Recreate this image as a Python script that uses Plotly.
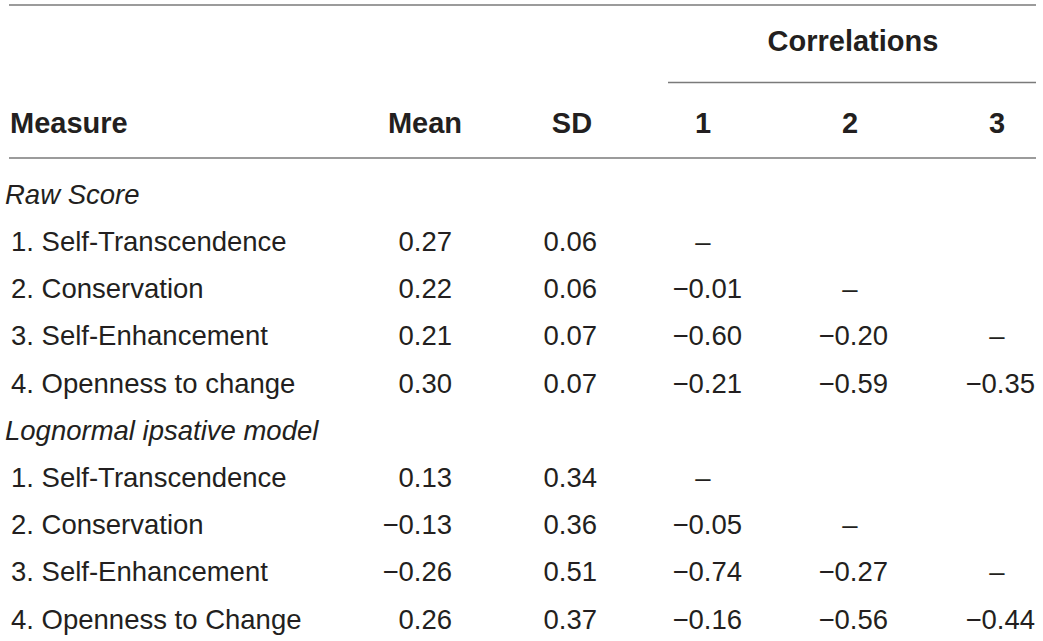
import plotly.graph_objects as go

# ── Table content ─────────────────────────────────────────────────────────────
col_headers = ["Mean", "SD", "1", "2", "3"]
group_titles = ["Raw Score", "Lognormal ipsative model"]

measures_raw = ["1. Self-Transcendence", "2. Conservation", "3. Self-Enhancement", "4. Openness to change"]
mean_raw = [0.27, 0.22, 0.21, 0.30]
sd_raw = [0.06, 0.06, 0.07, 0.07]
corr_raw = [[None], [-0.01, None], [-0.60, -0.20, None], [-0.21, -0.59, -0.35]]

measures_log = ["1. Self-Transcendence", "2. Conservation", "3. Self-Enhancement", "4. Openness to Change"]
mean_log = [0.13, -0.13, -0.26, 0.26]
sd_log = [0.34, 0.36, 0.51, 0.37]
corr_log = [[None], [-0.05, None], [-0.74, -0.27, None], [-0.16, -0.56, -0.44]]

# ── Layout (screen pixel units) ───────────────────────────────────────────────
W, H = 1043, 641
FONT = "Liberation Sans"
INK = "#231f20"
SIZE = 27.5
BOLD_SIZE = 29

label_x = 11
col_center = [425, 572, 703, 850, 997]
col_right = [452, 597, 742, 888, 1035]
header_y = 126
row_y0, row_dy = 197, 47.2


def fmt(v):
    return f"{v:.2f}".replace("-", "\u2212")


fig = go.Figure()

def add_text(xs, ys, texts, pos, bold=False, italic=False):
    size = SIZE
    if bold:
        texts = [f"<b>{t}</b>" for t in texts]
        size = BOLD_SIZE
    if italic:
        texts = [f"<i>{t}</i>" for t in texts]
    fig.add_trace(go.Scatter(
        x=xs, y=ys, text=texts, mode="text", textposition=pos,
        textfont=dict(family=FONT, size=size, color=INK),
        hoverinfo="skip", showlegend=False, cliponaxis=False,
    ))

# headers
add_text([853], [44], ["Correlations"], "middle center", bold=True)
add_text([label_x - 1], [header_y], ["Measure"], "middle right", bold=True)
add_text(col_center, [header_y] * 5, col_headers, "middle center", bold=True)

# body
row = 0
for title, names, means, sds, corrs in [
    (group_titles[0], measures_raw, mean_raw, sd_raw, corr_raw),
    (group_titles[1], measures_log, mean_log, sd_log, corr_log),
]:
    add_text([label_x - 6], [row_y0 + row * row_dy], [title], "middle right", italic=True)
    row += 1
    for i, name in enumerate(names):
        y = row_y0 + row * row_dy
        add_text([label_x], [y], [name], "middle right")
        add_text(col_right[:2], [y, y], [fmt(means[i]), fmt(sds[i])], "middle left")
        nums_x, nums_t, dash_x = [], [], []
        for j, v in enumerate(corrs[i]):
            if v is None:
                dash_x.append(col_center[2 + j])
            else:
                nums_x.append(col_right[2 + j])
                nums_t.append(fmt(v))
        if nums_x:
            add_text(nums_x, [y] * len(nums_x), nums_t, "middle left")
        if dash_x:
            add_text(dash_x, [y] * len(dash_x), ["\u2013"] * len(dash_x), "middle center")
        row += 1

# rules
line = dict(color="#7a7a7a", width=1.3)
fig.add_shape(type="line", x0=9, x1=1036, y0=5, y1=5, line=line)
fig.add_shape(type="line", x0=668, x1=1036, y0=82.5, y1=82.5, line=line)
fig.add_shape(type="line", x0=9, x1=1036, y0=158, y1=158, line=line)

fig.update_xaxes(range=[0, W], visible=False, fixedrange=True)
fig.update_yaxes(range=[H, 0], visible=False, fixedrange=True)
fig.update_layout(
    width=W, height=H,
    margin=dict(l=0, r=0, t=0, b=0),
    paper_bgcolor="white", plot_bgcolor="white",
)
# drop the default 8px page margin so the figure fills the window exactly
fig.write_html(
    "out.html",
    config={"displayModeBar": False, "staticPlot": True},
    post_script="document.body.style.margin='0';document.body.style.overflow='hidden';",
)
